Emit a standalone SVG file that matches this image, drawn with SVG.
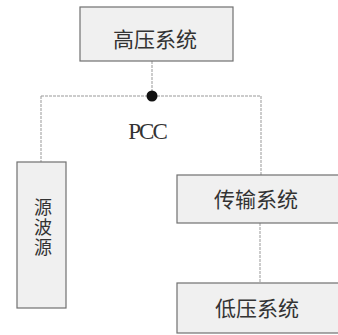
<svg xmlns="http://www.w3.org/2000/svg" width="338" height="335" viewBox="0 0 338 335">
<style>
.box{fill:#f0f0f0;stroke:#707070;stroke-width:1.2}
.lbl{font-family:"Liberation Serif","Noto Sans CJK SC",serif;font-size:21px;fill:#333;text-anchor:middle;dominant-baseline:central}
.wire{fill:none;stroke:#999;stroke-width:1;stroke-dasharray:3 1}
</style>
<rect width="338" height="335" fill="#ffffff"/>
<g id="connectors">
<path class="wire" d="M152 61V96"/>
<path class="wire" d="M41 96H261"/>
<path class="wire" d="M41 96V162"/>
<path class="wire" d="M261 96V176"/>
<path class="wire" d="M260 223V283"/>
<circle cx="152" cy="96" r="5.5" fill="#111"/>
</g>
<g id="high">
<rect class="box" x="80" y="7" width="153" height="54"/>
<text class="lbl" x="155" y="40">高压系统</text>
</g>
<g id="pcc">
<text x="147" y="139" font-family="Liberation Serif,serif" font-size="23" fill="#333" text-anchor="middle" letter-spacing="-2">PCC</text>
</g>
<g id="source">
<rect class="box" x="17" y="162" width="49" height="146"/>
<text x="43" y="228" font-family="'Noto Sans CJK SC',sans-serif" font-size="18" fill="#333" text-anchor="middle" writing-mode="vertical-rl" letter-spacing="2">源波源</text>
</g>
<g id="trans">
<rect class="box" x="177" y="175" width="165" height="48"/>
<text class="lbl" x="256" y="200">传输系统</text>
</g>
<g id="low">
<rect class="box" x="177" y="283" width="165" height="50"/>
<text class="lbl" x="257" y="309">低压系统</text>
</g>
</svg>
